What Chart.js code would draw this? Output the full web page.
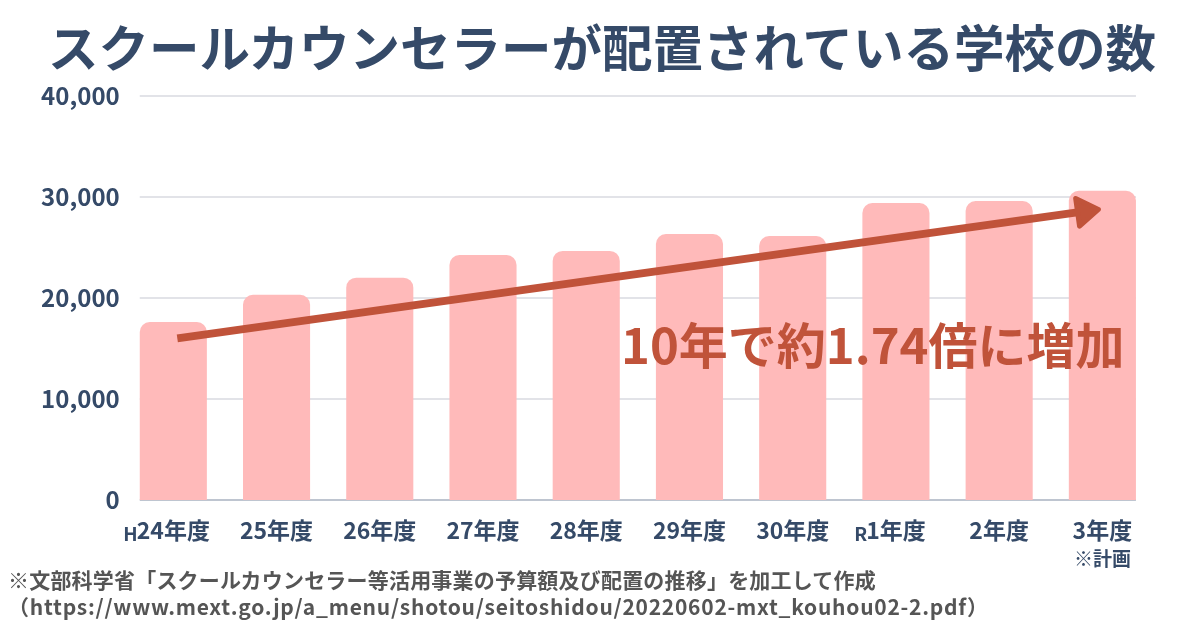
<!DOCTYPE html>
<html lang="ja">
<head>
<meta charset="utf-8">
<script src="https://cdn.jsdelivr.net/npm/chart.js@4/dist/chart.umd.min.js"></script>
<style>
  html, body { margin: 0; padding: 0; background: #fff; }
  #wrap { position: relative; width: 1200px; height: 630px; overflow: hidden; font-family: "Noto Sans CJK JP", sans-serif; font-weight: bold; }
  #c { position: absolute; left: 0; top: 0; }
  .txt { position: absolute; line-height: 1; white-space: nowrap; }
  #title { left: 0; width: 1204px; text-align: center; top: 20px; font-size: 50.5px; color: #354a68; }
  #note { left: 621px; top: 318px; font-size: 49px; color: #c0533a; }
  #src1 { left: 8px; top: 569px; font-size: 21px; color: #555; letter-spacing: 0.2px; }
  #src2 { left: 8px; top: 596px; font-size: 21px; color: #555; letter-spacing: 0.75px; }
</style>
</head>
<body>
<div id="wrap">
  <canvas id="c" width="1200" height="630"></canvas>
  <div class="txt" id="title">スクールカウンセラーが配置されている学校の数</div>
  <div class="txt" id="note">10年で約1.74倍に増加</div>
  <div class="txt" id="src1">※文部科学省「スクールカウンセラー等活用事業の予算額及び配置の推移」を加工して作成</div>
  <div class="txt" id="src2">（https://www.mext.go.jp/a_menu/shotou/seitoshidou/20220602-mxt_kouhou02-2.pdf）</div>
</div>
<script>
const categories = ['H24年度', '25年度', '26年度', '27年度', '28年度', '29年度', '30年度', 'R1年度', '2年度', '3年度'];
const categoryNotes = ['', '', '', '', '', '', '', '', '', '※計画'];
const schools = [17621, 20310, 22013, 24254, 24661, 26337, 26139, 29406, 29604, 30624];
const yTicks = [0, 10000, 20000, 30000, 40000];
const trendStart = [0, 16000];
const trendEnd = [9, 28800];

const TEXT = '#354a68'; const FONT = '"Noto Sans CJK JP", sans-serif';

// gridlines, baseline, arrow and the x labels
const decor = {
  id: 'decor',
  beforeDatasetsDraw(chart) {
    const ctx = chart.ctx; const y = chart.scales.y;
    const bars = chart.getDatasetMeta(0).data;
    const l = bars[0].x - bars[0].width / 2; const r = bars[bars.length - 1].x + bars[bars.length - 1].width / 2;
    ctx.save();
    yTicks.forEach(v => {
      const py = Math.round(y.getPixelForValue(v));
      ctx.strokeStyle = v === 0 ? '#a8b2c0' : '#e2e3e8'; ctx.lineWidth = v === 0 ? 1.5 : 2;
      ctx.beginPath(); ctx.moveTo(l, py); ctx.lineTo(r, py); ctx.stroke();
    });
    ctx.restore();
  },
  afterDatasetsDraw(chart) {
    const ctx = chart.ctx; const x = chart.scales.x; const y = chart.scales.y;
    const x0 = x.getPixelForValue(trendStart[0]) + 4, y0 = y.getPixelForValue(trendStart[1]);
    const x1 = x.getPixelForValue(trendEnd[0]) - 2, y1 = y.getPixelForValue(trendEnd[1]);
    const a = Math.atan2(y1 - y0, x1 - x0); const ux = Math.cos(a), uy = Math.sin(a);
    const headLen = 21, halfW = 14;
    ctx.save();
    ctx.strokeStyle = '#c0533a'; ctx.fillStyle = '#c0533a';
    ctx.lineWidth = 8; ctx.lineCap = 'butt';
    ctx.beginPath(); ctx.moveTo(x0, y0); ctx.lineTo(x1 - ux * headLen * 0.6, y1 - uy * headLen * 0.6); ctx.stroke();
    const tx = x1 - ux * 2, ty = y1 - uy * 2; const bx = tx - ux * headLen, by = ty - uy * headLen;
    ctx.lineWidth = 5; ctx.lineJoin = 'round';
    ctx.beginPath(); ctx.moveTo(tx, ty); ctx.lineTo(bx - uy * halfW, by + ux * halfW); ctx.lineTo(bx + uy * halfW, by - ux * halfW); ctx.closePath();
    ctx.fill(); ctx.stroke();

    ctx.fillStyle = TEXT; ctx.textBaseline = 'alphabetic';
    categories.forEach((lab, i) => {
      const px = x.getPixelForValue(i);
      const m = lab.match(/^[HR]/); const main = m ? lab.slice(1) : lab;
      ctx.font = 'bold 23px ' + FONT; ctx.textAlign = 'center';
      const w = ctx.measureText(main).width;
      ctx.fillText(main, px, 539);
      if (m) { ctx.font = 'bold 19px ' + FONT; ctx.textAlign = 'right'; ctx.fillText(m[0], px - w / 2 + 1, 541); }
      if (categoryNotes[i]) { ctx.font = 'bold 19px ' + FONT; ctx.textAlign = 'center'; ctx.fillText(categoryNotes[i], px, 566); }
    });
    ctx.restore();
  }
};

new Chart(document.getElementById('c'), {
  type: 'bar',
  data: { labels: categories, datasets: [{ data: schools, backgroundColor: '#ffbaba', borderRadius: { topLeft: 10, topRight: 10, bottomLeft: 0, bottomRight: 0 }, borderSkipped: false, barPercentage: 0.65, categoryPercentage: 1 }] },
  options: {
    responsive: false, animation: false,
    layout: { padding: { left: 0, right: 46, top: 96, bottom: 0 } },
    plugins: { legend: { display: false }, tooltip: { enabled: false } },
    scales: {
      x: { grid: { display: false, drawTicks: false }, border: { display: false }, ticks: { display: false }, afterFit: s => { s.height = 130; } },
      y: { min: 0, max: 40000, grid: { display: false, drawTicks: false }, border: { display: false },
           ticks: { stepSize: 10000, padding: 2, color: TEXT, font: { family: FONT, size: 24, weight: 'bold' }, callback: v => v.toLocaleString('en-US') },
           afterFit: s => { s.width = 121.7; } }
    }
  },
  plugins: [decor]
});
</script>
</body>
</html>
